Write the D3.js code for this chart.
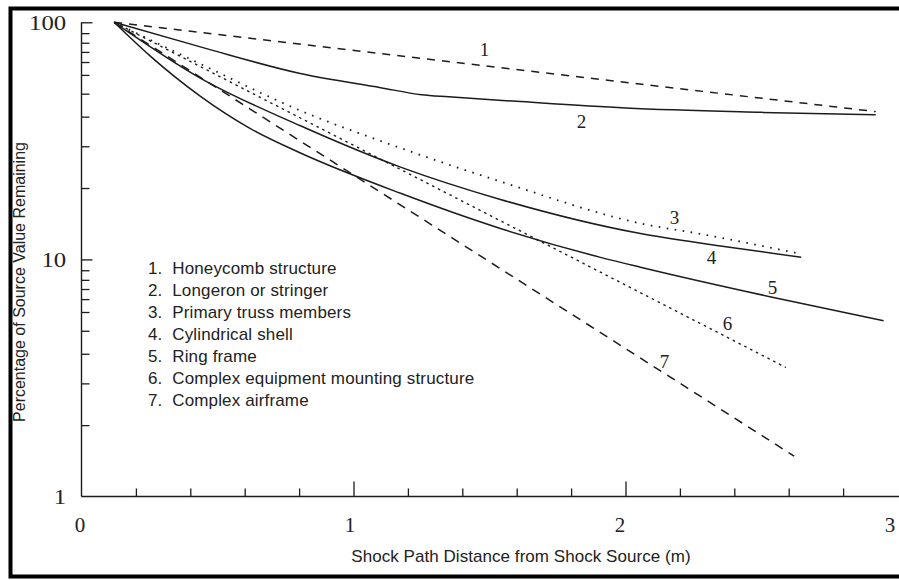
<!DOCTYPE html>
<html><head><meta charset="utf-8">
<script src="https://cdn.jsdelivr.net/npm/d3@7"></script>
<style>
body{margin:0;background:#fff}
svg{display:block}
.serif{font-family:"Liberation Serif","Times New Roman",serif;fill:#222}
.sans{font-family:"Liberation Sans",Arial,Helvetica,sans-serif;fill:#222}
</style>
</head><body>
<svg id="chart" width="899" height="580"></svg>
<script>
// ---------- data ----------
const xTickLabels = [0, 1, 2, 3];
const xMajorTicks = [1, 2];
const xMinorTicks = [0.2, 0.4, 0.6, 0.8, 1.2, 1.4, 1.6, 1.8, 2.2, 2.4, 2.6, 2.8];
const yTickLabels = [1, 10, 100];
const yMajorTicks = [10, 100];
const yMinorFactors = [0.9, 0.82, 0.75, 0.68, 0.6, 0.5, 0.4, 0.3, 0.2];

const legendLabels = [
  "1.  Honeycomb structure",
  "2.  Longeron or stringer",
  "3.  Primary truss members",
  "4.  Cylindrical shell",
  "5.  Ring frame",
  "6.  Complex equipment mounting structure",
  "7.  Complex airframe"
];
const curveIds = ["1", "2", "3", "4", "5", "6", "7"];

// series values: distance (m) and percentage remaining
const honeycombX = [0.12, 2.92];
const honeycombY = [100, 42];
const longeronX = [0.12, 0.45, 0.80, 1.10, 1.25, 1.35, 1.60, 2.00, 2.50, 2.92];
const longeronY = [100, 78, 61, 53, 49.5, 48.5, 46.4, 43.5, 41.7, 40.7];
const trussX = [0.12, 0.44, 0.805, 1.173, 1.540, 2.066, 2.276, 2.636];
const trussY = [100, 66.5, 42.4, 29.5, 21.3, 14.1, 12.8, 10.6];
const shellX = [0.12, 0.44, 0.805, 1.173, 1.540, 2.055, 2.349, 2.646];
const shellY = [100, 57.9, 36.6, 24.5, 17.9, 12.85, 11.4, 10.2];
const ringX = [0.12, 0.254, 0.4375, 0.621, 0.805, 1.173, 1.540, 1.908, 2.055, 2.544, 2.949];
const ringY = [100, 71.8, 48.7, 35.6, 28.1, 19.0, 13.5, 10.2, 9.27, 6.91, 5.51];
const equipX = [0.12, 2.59];
const equipY = [100, 3.5];
const airframeX = [0.12, 2.62];
const airframeY = [100, 1.48];

// curve number label anchors (data units)
const labelX = [1.482, 1.838, 2.180, 2.316, 2.540, 2.375, 2.143];
const labelY = [76.6, 38.4, 15.0, 10.2, 7.62, 5.36, 3.73];

// ---------- chart ----------
const svg = d3.select("#chart");
const W = 899, H = 580;
const x = d3.scaleLinear().domain([0, 3]).range([81.5, 897.5]);
const xLab = d3.scaleLinear().domain([0, 3]).range([79.5, 889.5]);
const y = d3.scaleLog().domain([1, 100]).range([496.5, 22.3]);

const ink = "#1c1c1c";

// outer frame (open on the right)
svg.append("path")
  .attr("d", `M${W} 8.5 H10.5 V576.5 H${W}`)
  .attr("fill", "none").attr("stroke", "#000").attr("stroke-width", 4);

// axes lines
svg.append("line").attr("x1", x(0)).attr("x2", W).attr("y1", y(1)).attr("y2", y(1))
  .attr("stroke", ink).attr("stroke-width", 1.4);
svg.append("line").attr("x1", x(0)).attr("x2", x(0)).attr("y1", y(100)).attr("y2", y(1))
  .attr("stroke", ink).attr("stroke-width", 1.4);

function styleAxis(g) {
  g.select(".domain").remove();
  g.selectAll(".tick line").attr("stroke", ink).attr("stroke-width", 1.3);
}

// x ticks
svg.append("g").attr("transform", `translate(0,${y(1)})`)
  .call(d3.axisBottom(x).tickValues(xMajorTicks).tickSizeInner(-15).tickSizeOuter(0).tickFormat(""))
  .call(styleAxis);
svg.append("g").attr("transform", `translate(0,${y(1)})`)
  .call(d3.axisBottom(x).tickValues(xMinorTicks).tickSizeInner(-8).tickSizeOuter(0).tickFormat(""))
  .call(styleAxis);
const xl = svg.append("g").attr("transform", `translate(0,${y(1)})`)
  .call(d3.axisBottom(xLab).tickValues(xTickLabels).tickSize(0).tickPadding(21).tickFormat(d3.format("d")))
  .call(styleAxis);
xl.selectAll("text").attr("class", "serif").attr("font-size", 21).attr("fill", "#222");

// y ticks
const yMinor = [];
[1, 10].forEach(dec => yMinorFactors.forEach(f => yMinor.push(dec * 10 * f)));
svg.append("g").attr("transform", `translate(${x(0)},0)`)
  .call(d3.axisRight(y).tickValues(yMajorTicks).tickSizeInner(11).tickSizeOuter(0).tickFormat(""))
  .call(styleAxis);
svg.append("g").attr("transform", `translate(${x(0)},0)`)
  .call(d3.axisRight(y).tickValues(yMinor).tickSizeInner(8).tickSizeOuter(0).tickFormat(""))
  .call(styleAxis);
const yl = svg.append("g").attr("transform", `translate(${x(0)},0)`)
  .call(d3.axisLeft(y).tickValues(yTickLabels).tickSize(0).tickPadding(13).tickFormat(d3.format("d")))
  .call(styleAxis);
yl.selectAll("text").attr("class", "serif").attr("font-size", 21).attr("fill", "#222")
  .attr("transform", "scale(1.18,1)");

// series
const series = [
  {xs: honeycombX, ys: honeycombY, dash: "8,7", w: 1.5},
  {xs: longeronX, ys: longeronY, dash: null, w: 1.5},
  {xs: trussX, ys: trussY, dash: "1.6,6.5", w: 1.8},
  {xs: shellX, ys: shellY, dash: null, w: 1.5},
  {xs: ringX, ys: ringY, dash: null, w: 1.5},
  {xs: equipX, ys: equipY, dash: "2.5,4", w: 1.4},
  {xs: airframeX, ys: airframeY, dash: "9,7", w: 1.5}
];
const line = d3.line().x(d => x(d[0])).y(d => y(d[1])).curve(d3.curveMonotoneX);
series.forEach(s => {
  const pts = s.xs.map((v, i) => [v, s.ys[i]]);
  svg.append("path").attr("d", line(pts))
    .attr("fill", "none").attr("stroke", ink).attr("stroke-width", s.w)
    .attr("stroke-dasharray", s.dash);
});

// curve number labels
svg.append("g").selectAll("text").data(curveIds).join("text")
  .attr("class", "serif").attr("font-size", 19)
  .attr("x", (d, i) => x(labelX[i])).attr("y", (d, i) => y(labelY[i]))
  .attr("text-anchor", "middle").attr("dy", "0.35em")
  .text(d => d);

// legend
svg.append("g").selectAll("text").data(legendLabels).join("text")
  .attr("class", "sans").attr("font-size", 17).attr("letter-spacing", 0.15)
  .attr("x", 148).attr("y", (d, i) => 268 + i * 22)
  .attr("dy", "0.35em").attr("xml:space", "preserve")
  .style("white-space", "pre")
  .text(d => d);

// axis titles
svg.append("text").attr("class", "sans").attr("font-size", 17).attr("letter-spacing", 0.05)
  .attr("x", 521).attr("y", 562).attr("text-anchor", "middle")
  .text("Shock Path Distance from Shock Source (m)");
svg.append("text").attr("class", "sans").attr("font-size", 16)
  .attr("transform", "translate(25,282) rotate(-90)").attr("text-anchor", "middle")
  .text("Percentage of Source Value Remaining");
</script>
</body></html>
